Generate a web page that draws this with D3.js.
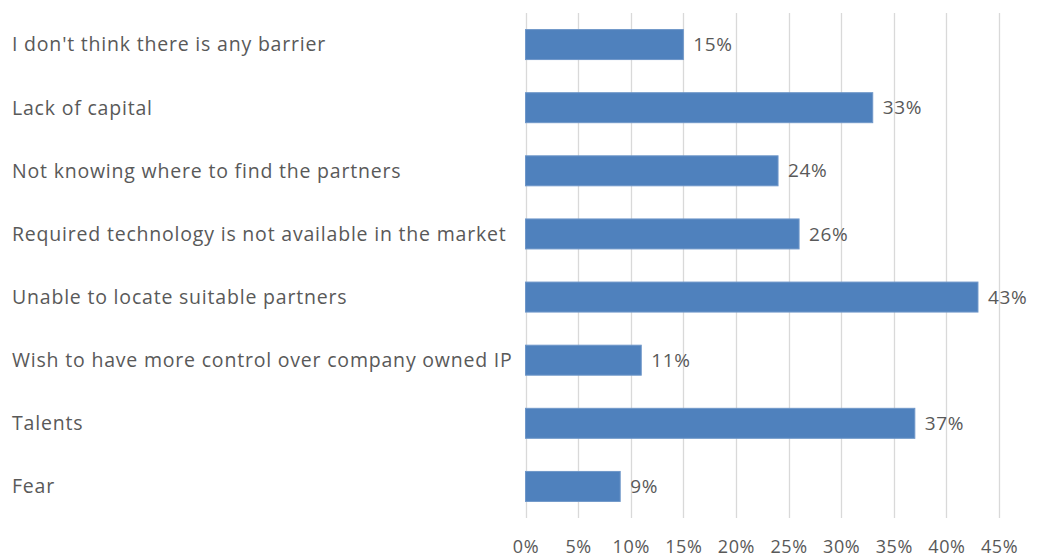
<!DOCTYPE html>
<html>
<head>
<meta charset="utf-8">
<script src="https://cdn.jsdelivr.net/npm/d3@7"></script>
<style>
  html, body { margin: 0; padding: 0; background: #fff; }
  svg { display: block; }
  text { font-family: "Open Sans", "Noto Sans", sans-serif; fill: #595959; }
</style>
</head>
<body>
<svg id="chart" width="1042" height="558"></svg>
<script>
// Barriers to partnering, share of respondents (%)
const categories = [
  "I don't think there is any barrier",
  "Lack of capital",
  "Not knowing where to find the partners",
  "Required technology is not available in the market",
  "Unable to locate suitable partners",
  "Wish to have more control over company owned IP",
  "Talents",
  "Fear"
];
const values = [15, 33, 24, 26, 43, 11, 37, 9];
const tickValues = [0, 5, 10, 15, 20, 25, 30, 35, 40, 45];

const svg = d3.select("#chart");
const plot = { left: 525.5, right: 999, top: 13, bottom: 518 };

const x = d3.scaleLinear().domain([0, 45]).range([plot.left, plot.right]);
const y = d3.scaleBand().domain(categories).range([plot.top, plot.bottom]).paddingInner(0.525).paddingOuter(0.2625);

// vertical gridlines
svg.append("g")
  .selectAll("line")
  .data(tickValues)
  .join("line")
  .attr("x1", d => Math.round(x(d)) + 0.5)
  .attr("x2", d => Math.round(x(d)) + 0.5)
  .attr("y1", plot.top)
  .attr("y2", plot.bottom)
  .attr("stroke", "#d9d9d9")
  .attr("stroke-width", 1.3);

// x axis labels
const xAxis = d3.axisBottom(x).tickValues(tickValues).tickFormat(d => d + "%").tickSize(0).tickPadding(0);
const gx = svg.append("g").attr("transform", `translate(0, 553)`).call(xAxis);
gx.select(".domain").remove();
gx.selectAll("text")
  .attr("y", 0).attr("dy", 0)
  .style("font-size", "18px")
  .style("letter-spacing", "0.6px")
  .style("font-family", null)
  .attr("fill", "#595959");

// category labels, left aligned
svg.append("g")
  .selectAll("text")
  .data(categories)
  .join("text")
  .attr("x", 12)
  .attr("y", d => y(d) + y.bandwidth() / 2)
  .attr("dy", "0.35em")
  .style("font-size", "19.5px")
  .style("letter-spacing", "0.8px")
  .text(d => d);

// bars
svg.append("g")
  .selectAll("rect")
  .data(values)
  .join("rect")
  .attr("x", x(0))
  .attr("y", (d, i) => y(categories[i]))
  .attr("width", d => x(d) - x(0))
  .attr("height", y.bandwidth())
  .attr("fill", "#4f81bd")
  .attr("stroke", "#6f97c9")
  .attr("stroke-width", 1);

// value labels
svg.append("g")
  .selectAll("text")
  .data(values)
  .join("text")
  .attr("x", d => x(d) + 10)
  .attr("y", (d, i) => y(categories[i]) + y.bandwidth() / 2)
  .attr("dy", "0.35em")
  .style("font-size", "19px")
  .style("letter-spacing", "0.6px")
  .text(d => d + "%");
</script>
</body>
</html>
